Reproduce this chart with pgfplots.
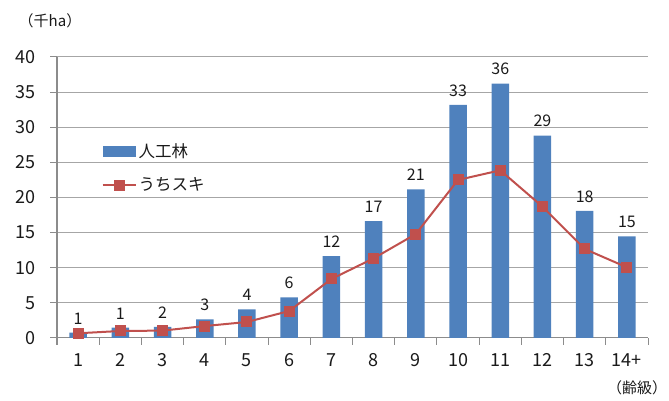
\documentclass[border=0pt]{standalone}
\usepackage{pgfplots}
\pgfplotsset{compat=1.18}
\usepackage{fontspec}
\setmainfont{Noto Sans CJK JP}
\definecolor{barblue}{HTML}{4F81BD}
\definecolor{linered}{HTML}{C0504D}
\definecolor{gridgray}{HTML}{A6A6A6}
\definecolor{axisgray}{HTML}{8C8C8C}
\definecolor{txt}{HTML}{1A1A1A}
\begin{document}
\begin{tikzpicture}[x=1pt,y=1pt]
\useasboundingbox (0,0) rectangle (669,401);
\begin{axis}[
  at={(57pt,63pt)}, anchor=south west,
  scale only axis, width=591pt, height=281pt,
  xmin=0.5, xmax=14.5, ymin=0, ymax=40,
  axis x line*=bottom, axis y line*=left,
  axis line style={draw=axisgray, line width=1pt, -},
  tick align=outside, major tick length=7pt,
  xtick={0.5,1.5,2.5,3.5,4.5,5.5,6.5,7.5,8.5,9.5,10.5,11.5,12.5,13.5,14.5},
  x tick label as interval,
  xticklabels={1,2,3,4,5,6,7,8,9,10,11,12,13,14+},
  major tick style={draw=axisgray, line width=1pt},
  ytick={0,5,10,15,20,25,30,35,40},
  ymajorgrids, grid style={gridgray, line width=1pt},
  tick label style={font=\fontsize{18}{18}\selectfont, text=txt},
  /pgf/number format/assume math mode=true,
  yticklabel style={xshift=-11pt},
  xticklabel style={yshift=-5pt},
  legend style={at={(axis description cs:0.075,0.70)}, anchor=north west, draw=none, fill=none,
     font=\fontsize{16.5}{16.5}\selectfont, text=txt, row sep=15pt, inner sep=0pt},
  legend cell align=left,
]
\addplot[ybar, bar width=17.5pt, fill=barblue, draw=none,
  point meta=explicit symbolic,
  nodes near coords, nodes near coords style={font=\fontsize{16}{16}\selectfont, text=txt, yshift=5pt},
  legend image code/.code={\fill[barblue] (0pt,-5.5pt) rectangle (33pt,5.5pt);}]
 table[meta=l] {
 x y l
 1 0.75 1
 2 1.47 1
 3 1.57 2
 4 2.66 3
 5 4.08 4
 6 5.79 6
 7 11.67 12
 8 16.65 17
 9 21.17 21
 10 33.17 33
 11 36.2 36
 12 28.8 29
 13 18.08 18
 14 14.45 15
 };
\addlegendentry{人工林}
\addplot[linered, line width=2pt, mark=square*, mark size=4.5pt, mark options={fill=linered, draw=linered},
  legend image code/.code={\draw[linered, line width=2pt] (0pt,0pt)--(33pt,0pt); \fill[linered] (12pt,-4.5pt) rectangle (21pt,4.5pt);}]
 coordinates {
 (1,0.67) (2,1.0) (3,1.05) (4,1.7) (5,2.28) (6,3.84) (7,8.4) (8,11.34) (9,14.8)
 (10,22.5) (11,23.87) (12,18.7) (13,12.67) (14,10.06)
 };
\addlegendentry{うちスキ}
\end{axis}
\node[font=\fontsize{15}{15}\selectfont, text=txt] at (50,380) {（千ha）};
\node[font=\fontsize{15}{15}\selectfont, text=txt] at (637,13) {（齢級）};
\end{tikzpicture}
\end{document}
